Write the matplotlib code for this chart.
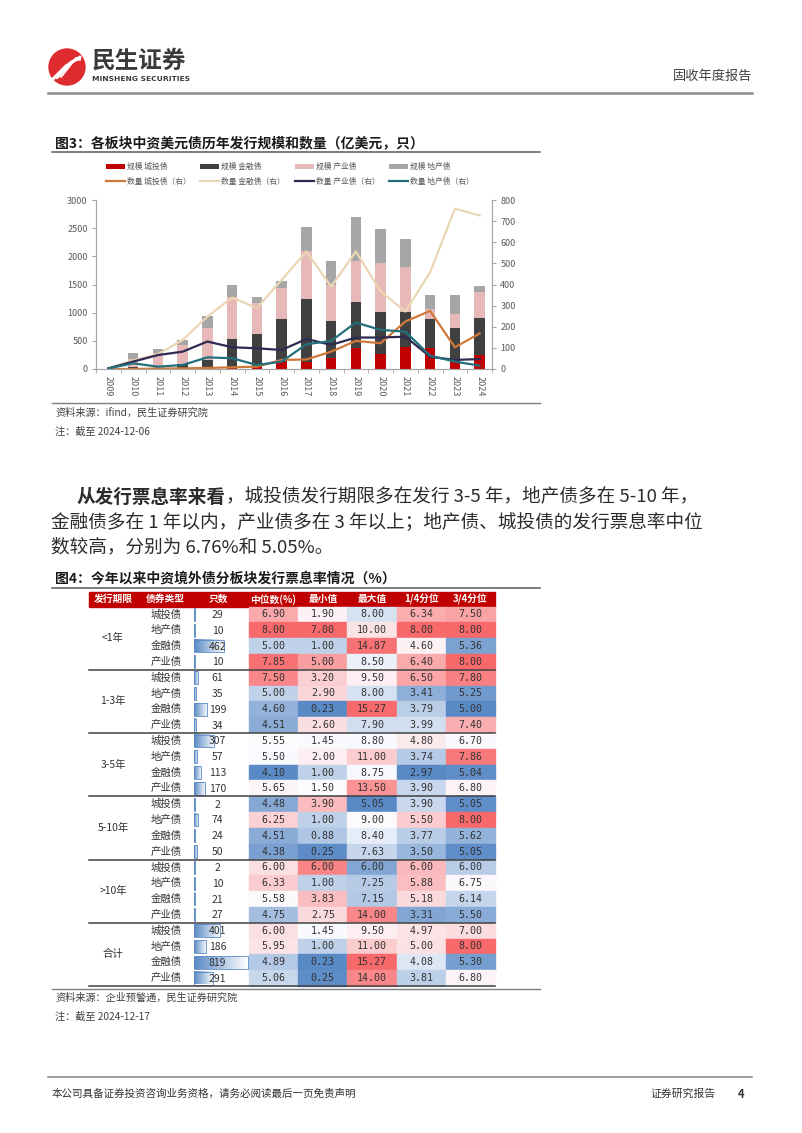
import numpy as np
import matplotlib
matplotlib.use("Agg")
import matplotlib.pyplot as plt
from matplotlib.patches import Rectangle, Circle
from matplotlib.colors import LinearSegmentedColormap, to_rgb

plt.rcParams["font.family"] = ["Noto Sans CJK SC", "DejaVu Sans"]

# ---- chart data (亿美元 / 只) ----
years = list(range(2009, 2025))
scale_chengtou = [0, 0, 0, 0, 0, 10, 50, 130, 130, 200, 368, 261, 385, 380, 130, 249]
scale_jinrong = [0, 40, 25, 83, 166, 522, 570, 760, 1115, 658, 818, 759, 634, 510, 593, 652]
scale_chanye = [0, 130, 255, 344, 557, 747, 557, 545, 842, 634, 723, 860, 783, 178, 255, 463]
scale_dichan = [0, 110, 70, 90, 220, 208, 107, 136, 439, 427, 789, 599, 498, 237, 338, 113]
count_chengtou = [0, 0, 2, 3, 5, 8, 11, 43, 45, 82, 133, 122, 225, 275, 103, 168]
count_jinrong = [5, 40, 70, 137, 248, 338, 288, 422, 556, 390, 556, 367, 272, 458, 759, 727]
count_chanye = [3, 35, 66, 82, 130, 103, 98, 90, 142, 114, 149, 149, 153, 58, 43, 47]
count_dichan = [3, 27, 11, 19, 55, 51, 19, 35, 117, 133, 220, 185, 177, 63, 35, 16]

# ---- table data ----
terms = ["<1年", "1-3年", "3-5年", "5-10年", ">10年", "合计"]
bond_types = ["城投债", "地产债", "金融债", "产业债"]
counts = [29, 10, 462, 10, 61, 35, 199, 34, 307, 57, 113, 170,
          2, 74, 24, 50, 2, 10, 21, 27, 401, 186, 819, 291]
median_rate = [6.90, 8.00, 5.00, 7.85, 7.50, 5.00, 4.60, 4.51, 5.55, 5.50, 4.10, 5.65,
               4.48, 6.25, 4.51, 4.38, 6.00, 6.33, 5.58, 4.75, 6.00, 5.95, 4.89, 5.06]
min_rate = [1.90, 7.00, 1.00, 5.00, 3.20, 2.90, 0.23, 2.60, 1.45, 2.00, 1.00, 1.50,
            3.90, 1.00, 0.88, 0.25, 6.00, 1.00, 3.83, 2.75, 1.45, 1.00, 0.23, 0.25]
max_rate = [8.00, 10.00, 14.87, 8.50, 9.50, 8.00, 15.27, 7.90, 8.80, 11.00, 8.75, 13.50,
            5.05, 9.00, 8.40, 7.63, 6.00, 7.25, 7.15, 14.00, 9.50, 11.00, 15.27, 14.00]
q1_rate = [6.34, 8.00, 4.60, 6.40, 6.50, 3.41, 3.79, 3.99, 4.80, 3.74, 2.97, 3.90,
           3.90, 5.50, 3.77, 3.50, 6.00, 5.88, 5.18, 3.31, 4.97, 5.00, 4.08, 3.81]
q3_rate = [7.50, 8.00, 5.36, 8.00, 7.80, 5.25, 5.00, 7.40, 6.70, 7.86, 5.04, 6.80,
           5.05, 8.00, 5.62, 5.05, 6.00, 6.75, 6.14, 5.50, 7.00, 8.00, 5.30, 6.80]
header = ["发行期限", "债券类型", "只数", "中位数(%)", "最小值", "最大值", "1/4分位", "3/4分位"]

TXT = "#2b2b2b"
GRAY = "#595959"

fig = plt.figure(figsize=(8.02, 11.33), dpi=100)
fig.patch.set_facecolor("white")

# page layer in pixel coordinates
page = fig.add_axes([0, 0, 1, 1])
page.axis("off")

# ---- header ----
page.add_patch(Circle((67, 67), 18, color="#DE2B2F", zorder=2))
for k in range(3):
    page.plot([53 + k * 4, 66 + k * 5, 80], [79 - k * 1, 66 - k * 4, 57 + k * 1.5],
              color="white", lw=2.2 - 0.4 * k, solid_capstyle="round", zorder=3)
page.text(92, 61, "民生证券", fontsize=17, fontweight="bold", color="#3a3a3a", va="center")
page.text(92, 79, "MINSHENG SECURITIES", fontsize=5.4, fontweight="bold", color="#3a3a3a",
          va="center", family=["DejaVu Sans"])
page.text(752, 76, "固收年度报告", fontsize=9.5, color="#404040", ha="right", va="center")
page.plot([48, 752], [93, 93], color="#8c8c8c", lw=1.8)

# ---- figure 3 title ----
page.text(55, 143, "图3：各板块中资美元债历年发行规模和数量（亿美元，只）", fontsize=10,
          fontweight="bold", color="#1a1a1a", va="center")
page.plot([52, 540], [152, 152], color="#595959", lw=1.1)

# ---- chart ----
ax = fig.add_axes([96 / 802, 1 - 369 / 1133, 396 / 802, 169 / 1133])
x = np.arange(len(years))
w = 0.42
b0 = np.zeros(len(years))
bars = []
for vals, col, lab in [(scale_chengtou, "#C00000", "规模 城投债"),
                       (scale_jinrong, "#404040", "规模 金融债"),
                       (scale_chanye, "#E6B9B8", "规模 产业债"),
                       (scale_dichan, "#A6A6A6", "规模 地产债")]:
    bars.append(ax.bar(x, vals, w, bottom=b0, color=col, label=lab, zorder=2))
    b0 = b0 + np.array(vals)
ax.set_xlim(-0.5, len(years) - 0.5)
ax.set_ylim(0, 3000)
ax.set_yticks(range(0, 3001, 500))
ax.set_xticks(x)
ax.set_xticklabels([str(y) for y in years], rotation=-90)
ax.set_xticks(np.arange(-0.5, len(years), 1), minor=True)
ax.tick_params(axis="x", which="major", length=0, pad=5, labelsize=6.5, labelcolor=GRAY)
ax.tick_params(axis="x", which="minor", length=3, color="#A6A6A6")
ax.tick_params(axis="y", length=3, color="#A6A6A6", labelsize=6.5, labelcolor=GRAY, pad=3)
ax.spines["top"].set_visible(False)
for s in ["left", "bottom", "right"]:
    ax.spines[s].set_color("#A6A6A6")

ax2 = ax.twinx()
lines = []
for vals, col, lab in [(count_chengtou, "#D0783A", "数量 城投债（右）"),
                       (count_jinrong, "#EBD6B4", "数量 金融债（右）"),
                       (count_chanye, "#2F2A52", "数量 产业债（右）"),
                       (count_dichan, "#22707C", "数量 地产债（右）")]:
    lines.append(ax2.plot(x, vals, color=col, lw=1.6, label=lab)[0])
ax2.set_ylim(0, 800)
ax2.set_yticks(range(0, 801, 100))
ax2.tick_params(axis="y", length=3, color="#A6A6A6", labelsize=6.5, labelcolor=GRAY, pad=3)
ax2.spines["top"].set_visible(False)
for s in ["left", "bottom", "right"]:
    ax2.spines[s].set_color("#A6A6A6")

handles = []
for b, l in zip(bars, lines):
    handles += [b, l]
fig.legend(handles=handles, labels=[h.get_label() for h in handles], ncol=4,
           loc="center left", bbox_to_anchor=(106 / 802, 1 - 174.5 / 1133),
           frameon=False, fontsize=5.6, handlelength=2.4, handletextpad=0.3,
           columnspacing=1.25, labelspacing=0.9, borderpad=0, borderaxespad=0,
           labelcolor=GRAY)

page.plot([52, 540], [403, 403], color="#7f7f7f", lw=1)
page.text(55, 413, "资料来源：ifind，民生证券研究院", fontsize=7.3, color="#404040", va="center")
page.text(55, 432, "注：截至 2024-12-06", fontsize=7.3, color="#404040", va="center")

# ---- paragraph ----
fs = 13.4
t1 = page.text(77, 497, "从发行票息率来看", fontsize=fs, fontweight="bold", color=TXT, va="center")
page.annotate("，城投债发行期限多在发行 3-5 年，地产债多在 5-10 年，", xy=(1, 0.5),
              xycoords=t1, va="center", ha="left", fontsize=fs, color=TXT)
page.text(51, 522, "金融债多在 1 年以内，产业债多在 3 年以上；地产债、城投债的发行票息率中位",
          fontsize=fs, color=TXT, va="center")
page.text(51, 547, "数较高，分别为 6.76%和 5.05%。", fontsize=fs, color=TXT, va="center")

# ---- figure 4 title ----
page.text(55, 578, "图4：今年以来中资境外债分板块发行票息率情况（%）", fontsize=10,
          fontweight="bold", color="#1a1a1a", va="center")
page.plot([52, 540], [588, 588], color="#595959", lw=1.1)

# ---- table ----
tx0, tx1 = 89, 495
hy0, hy1 = 592, 606.5
ty_end = 986
row_h = (ty_end - hy1) / len(counts)
heat_x0 = 249
cell_w = (tx1 - heat_x0) / 5
page.add_patch(Rectangle((tx0, hy0), tx1 - tx0, hy1 - hy0, color="#C00000", zorder=1))
header_x = [113, 165, 218] + [heat_x0 + cell_w * (j + 0.5) for j in range(5)]
for hx, h in zip(header_x, header):
    page.text(hx, (hy0 + hy1) / 2, h, fontsize=7, fontweight="bold", color="white",
              ha="center", va="center")

blue, white, red = np.array(to_rgb("#5A8AC6")), np.array(to_rgb("#FCFCFF")), np.array(to_rgb("#F8696B"))


def scale_color(v, vals):
    lo, mid, hi = min(vals), np.percentile(vals, 50), max(vals)
    if v <= mid:
        t = 0 if mid == lo else (v - lo) / (mid - lo)
        return blue + (white - blue) * t
    t = (v - mid) / (hi - mid)
    return white + (red - white) * t


grad = LinearSegmentedColormap.from_list("bar", ["#5A8AC6", "#FFFFFF"])
gradient = np.linspace(0, 1, 64).reshape(1, -1)
bar_x0, bar_max = 193.5, 54
cmax = max(counts)
columns = [median_rate, min_rate, max_rate, q1_rate, q3_rate]
for i in range(len(counts)):
    y0 = hy1 + i * row_h
    yc = y0 + row_h / 2
    page.text(166, yc, bond_types[i % 4], fontsize=7.5, color="#333333", ha="center", va="center")
    bw = max(1.5, counts[i] / cmax * bar_max)
    page.imshow(gradient, cmap=grad, aspect="auto", interpolation="bilinear",
                extent=(bar_x0, bar_x0 + bw, y0 + row_h - 1.5, y0 + 1.5), zorder=1)
    page.add_patch(Rectangle((bar_x0, y0 + 1.5), bw, row_h - 3, fill=False,
                             edgecolor="#5A8AC6", lw=0.6, zorder=2))
    page.text(217.5, yc + 0.5, str(counts[i]), fontsize=7.5, color="#333333",
              ha="center", va="center", zorder=3)
    for j, col in enumerate(columns):
        page.add_patch(Rectangle((heat_x0 + j * cell_w, y0), cell_w, row_h,
                                 color=scale_color(col[i], col), zorder=1))
        page.text(heat_x0 + (j + 0.5) * cell_w, yc, f"{col[i]:.2f}", fontsize=7.2,
                  family=["DejaVu Sans Mono"], color="#333333", ha="center", va="center", zorder=3)

for g, term in enumerate(terms):
    gy0 = hy1 + g * 4 * row_h
    page.text(113, gy0 + 2 * row_h, term, fontsize=7.5, color="#333333", ha="center", va="center")
    if g > 0:
        page.plot([tx0, tx1], [gy0, gy0], color="#404040", lw=1.1, zorder=4)
page.plot([tx0, tx1], [ty_end, ty_end], color="#404040", lw=1.1, zorder=4)
page.plot([52, 540], [988.5, 988.5], color="#7f7f7f", lw=1)
page.text(55, 998, "资料来源：企业预警通，民生证券研究院", fontsize=7.3, color="#404040", va="center")
page.text(55, 1017, "注：截至 2024-12-17", fontsize=7.3, color="#404040", va="center")

# ---- footer ----
page.plot([48, 752], [1077, 1077], color="#8c8c8c", lw=1.2)
page.text(52, 1094, "本公司具备证券投资咨询业务资格，请务必阅读最后一页免责声明", fontsize=7.6,
          color="#333333", va="center")
page.text(716, 1094, "证券研究报告", fontsize=7.8, color="#333333", ha="right", va="center")
page.text(741, 1094, "4", fontsize=8, fontweight="bold", color="#333333", ha="center", va="center")

page.set_xlim(0, 802)
page.set_ylim(1133, 0)

fig.savefig("out.png", dpi=100)
